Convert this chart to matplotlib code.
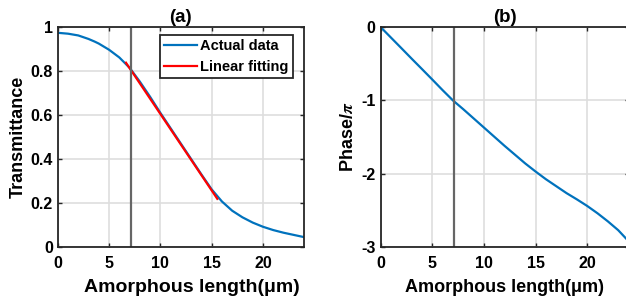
import numpy as np
import matplotlib.pyplot as plt

plt.rcParams['font.family'] = ['Liberation Sans', 'DejaVu Sans']
plt.rcParams['font.weight'] = 'bold'
plt.rcParams['mathtext.fontset'] = 'stix'
plt.rcParams['axes.unicode_minus'] = False

# data
length = [0, 1, 2, 3, 3.6, 4, 5, 6, 7, 8, 9, 10, 11, 12, 13, 14, 15, 16, 17, 18, 19, 20, 21, 22, 23, 24]
trans = [0.974, 0.970, 0.962, 0.946, 0.934, 0.925, 0.897, 0.862, 0.815, 0.752, 0.683, 0.610, 0.540,
         0.470, 0.400, 0.330, 0.262, 0.207, 0.165, 0.135, 0.111, 0.092, 0.077, 0.065, 0.055, 0.045]
fit_x = [6.65, 15.55]
fit_y = [0.838, 0.219]

phase_x = [0, 1, 2, 3, 4, 5, 6, 7, 8, 9, 10, 11, 12, 13, 14, 15, 16, 17, 18, 19, 20, 21, 22, 23, 24]
phase = [0, -0.143, -0.286, -0.43, -0.572, -0.715, -0.86, -1.0, -1.12, -1.245, -1.37, -1.495,
         -1.62, -1.74, -1.86, -1.97, -2.075, -2.17, -2.265, -2.35, -2.44, -2.54, -2.65, -2.77, -2.92]
mark_x = 7.1

blue = '#0072BD'
gridc = '#dedede'
markc = '#666666'

fig = plt.figure(figsize=(6.26, 2.96), dpi=100)
ax1 = fig.add_axes([0.0922, 0.1655, 0.3935, 0.743])
ax2 = fig.add_axes([0.608, 0.1655, 0.396, 0.743])

def style_ax(ax):
    ax.grid(True, color=gridc, linewidth=1.2)
    ax.set_axisbelow(True)
    for s in ax.spines.values():
        s.set_linewidth(1.3)
        s.set_color('#262626')
    ax.tick_params(direction='in', top=True, right=True, length=3, width=1,
                   labelsize=11.5, color='#262626')
    ax.tick_params(axis='x', pad=6.5)
    ax.tick_params(axis='y', pad=3.5)
    for lab in ax.get_xticklabels() + ax.get_yticklabels():
        lab.set_fontweight('bold')

# (a) transmittance
ax1.plot(length, trans, color=blue, lw=1.6, label='Actual data')
ax1.plot(fit_x, fit_y, color='red', lw=1.6, label='Linear fitting')
ax1.axvline(mark_x, color=markc, lw=1.6)
ax1.set_xlim(0, 24)
ax1.set_ylim(0, 1)
ax1.set_xticks([0, 5, 10, 15, 20])
ax1.set_yticks([0, 0.2, 0.4, 0.6, 0.8, 1])
ax1.set_yticklabels(['0', '0.2', '0.4', '0.6', '0.8', '1'])
style_ax(ax1)
ax1.set_xlabel('Amorphous length(\u03bcm)', fontsize=14, fontweight='bold', labelpad=5.5)
ax1.xaxis.label.set_x(0.543)
ax1.set_ylabel('Transmittance', fontsize=13, fontweight='bold', labelpad=3)
ax1.set_title('(a)', fontsize=13.5, fontweight='bold', pad=4)
leg = ax1.legend(loc='upper right', bbox_to_anchor=(0.954, 0.964), fontsize=10.5,
                 frameon=True, fancybox=False, framealpha=1, edgecolor='#262626',
                 handlelength=2.25, borderpad=0.27, labelspacing=0.5, handletextpad=0.25,
                 borderaxespad=0)
leg.get_frame().set_linewidth(1.3)
for t in leg.get_texts():
    t.set_fontweight('bold')

# (b) phase
ax2.plot(phase_x, phase, color=blue, lw=1.6)
ax2.axvline(mark_x, color=markc, lw=1.6)
ax2.set_xlim(0, 24)
ax2.set_ylim(-3, 0)
ax2.set_xticks([0, 5, 10, 15, 20])
ax2.set_yticks([-3, -2, -1, 0])
style_ax(ax2)
ax2.set_xlabel('Amorphous length(\u03bcm)', fontsize=13, fontweight='bold', labelpad=5.5)
ax2.set_ylabel('Phase/$\\pi$', fontsize=13, fontweight='bold', labelpad=3)
ax2.set_title('(b)', fontsize=13.5, fontweight='bold', pad=4)

fig.savefig('out.png', dpi=100)
